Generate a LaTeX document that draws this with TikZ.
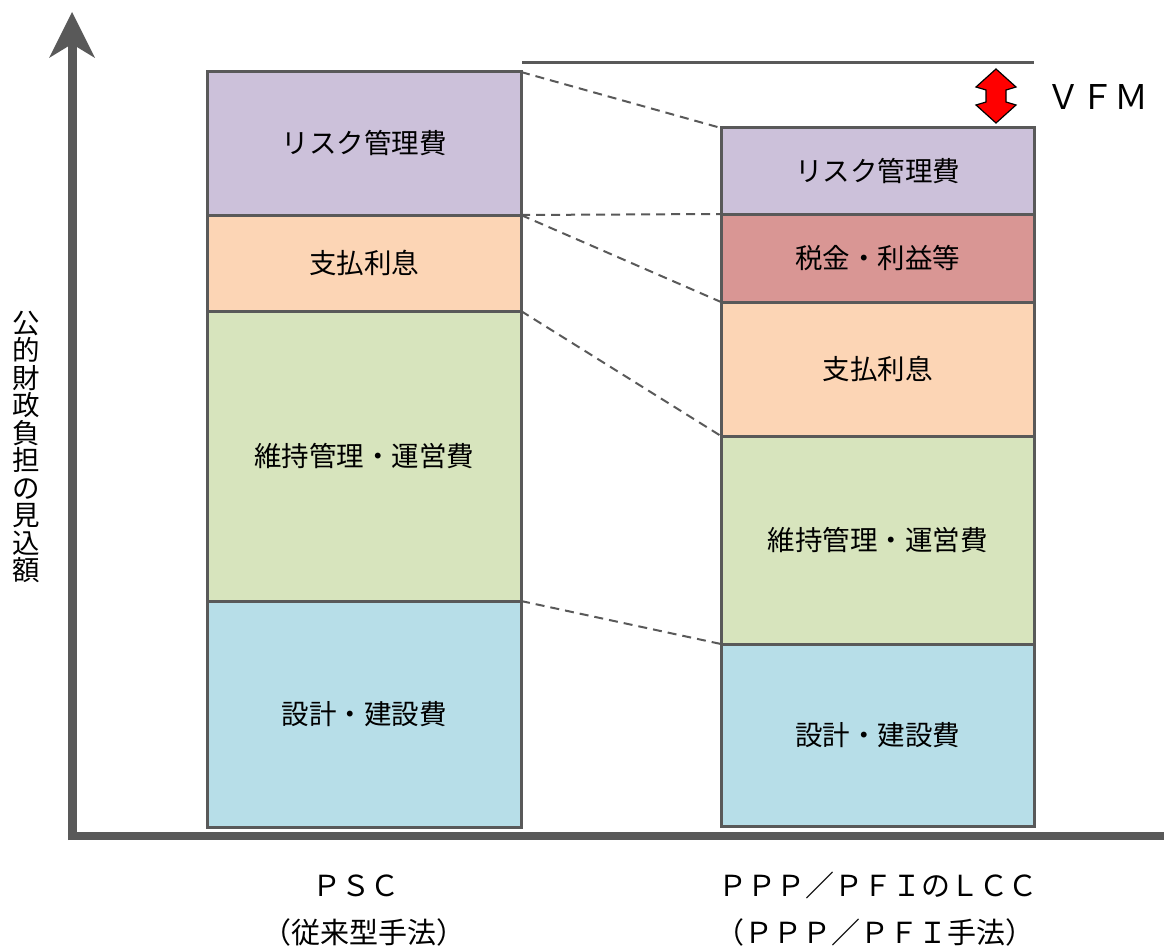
\documentclass[tikz,border=0pt]{standalone}
\usepackage{fontspec}
\setmainfont{Noto Sans CJK JP}
\definecolor{axisgray}{HTML}{595959}
\definecolor{cpurple}{HTML}{CCC1DA}
\definecolor{corange}{HTML}{FCD5B5}
\definecolor{cgreen}{HTML}{D7E4BD}
\definecolor{cblue}{HTML}{B7DEE8}
\definecolor{cred}{HTML}{D99694}
\begin{document}
\begin{tikzpicture}[x=1pt,y=-1pt,
  seg/.style={draw=axisgray,line width=3pt,inner sep=0pt,outer sep=0pt,
    font=\fontsize{27.5}{30}\selectfont},
  lbar/.style={seg,minimum width=314pt},
  rbar/.style={seg,minimum width=313pt},
  guide/.style={draw=axisgray,line width=2pt,dash pattern=on 9pt off 6pt},
  lab/.style={font=\fontsize{29}{30}\selectfont,inner sep=0pt}]
\useasboundingbox (0,0) rectangle (1164,947);
% axes
\coordinate (yb) at (72,840);
\coordinate (yt) at (72,40);
\coordinate (xl) at (68,836);
\coordinate (xr) at (1164,836);
\draw[axisgray,line width=9pt] (yb) -- (yt);
\draw[axisgray,line width=8pt] (xl) -- (xr);
\fill[axisgray] (72,12) -- (95,58) -- (72,44) -- (49,58) -- cycle;
% left bar
\node[lbar,fill=cpurple,minimum height=143pt] (L1) at (364,143.5) {リスク管理費};
\node[lbar,fill=corange,minimum height=96pt] (L2) at (364,263) {支払利息};
\node[lbar,fill=cgreen,minimum height=290pt] (L3) at (364,456) {維持管理・運営費};
\node[lbar,fill=cblue,minimum height=226pt] (L4) at (364,714) {設計・建設費};
% right bar
\node[rbar,fill=cpurple,minimum height=86pt] (R1) at (877.5,171) {リスク管理費};
\node[rbar,fill=cred,minimum height=88pt] (R2) at (877.5,258) {税金・利益等};
\node[rbar,fill=corange,minimum height=134pt] (R3) at (877.5,369) {支払利息};
\node[rbar,fill=cgreen,minimum height=208pt] (R4) at (877.5,540) {維持管理・運営費};
\node[rbar,fill=cblue,minimum height=182pt] (R5) at (877.5,735) {設計・建設費};
% guide lines
\draw[guide] (L1.north east) -- (R1.north west);
\draw[guide] (L1.south east) -- (R1.south west);
\draw[guide] (L2.north east) -- (R3.north west);
\draw[guide] (L3.north east) -- (R4.north west);
\draw[guide] (L4.north east) -- (R5.north west);
% top reference line
\coordinate (t1) at (522,63);
\coordinate (t2) at (1034,63);
\draw[axisgray,line width=3pt] (t1) -- (t2);
% VFM arrow
\filldraw[fill=red,draw=black,line width=1.2pt,line join=miter]
  (996,69) -- (1016,87) -- (1006,90) -- (1006,102) -- (1016,105) -- (996,123)
  -- (976,105) -- (986,102) -- (986,90) -- (976,87) -- cycle;
\node[font=\fontsize{34}{36}\selectfont,inner sep=0pt,anchor=west] (vfm) at (1046,97) {ＶＦＭ};
% y axis label
\node[align=center,inner sep=0pt,font=\fontsize{27.5}{27.5}\selectfont] (ylab) at (26,447)
  {公\\的\\財\\政\\負\\担\\の\\見\\込\\額};
% bottom labels
\node[lab] (p1) at (356,886) {ＰＳＣ};
\node[lab] (p2) at (364,932) {（従来型手法）};
\node[lab] (q1) at (878,885) {ＰＰＰ／ＰＦＩのＬＣＣ};
\node[lab] (q2) at (875,932) {（ＰＰＰ／ＰＦＩ手法）};
\end{tikzpicture}
\end{document}
